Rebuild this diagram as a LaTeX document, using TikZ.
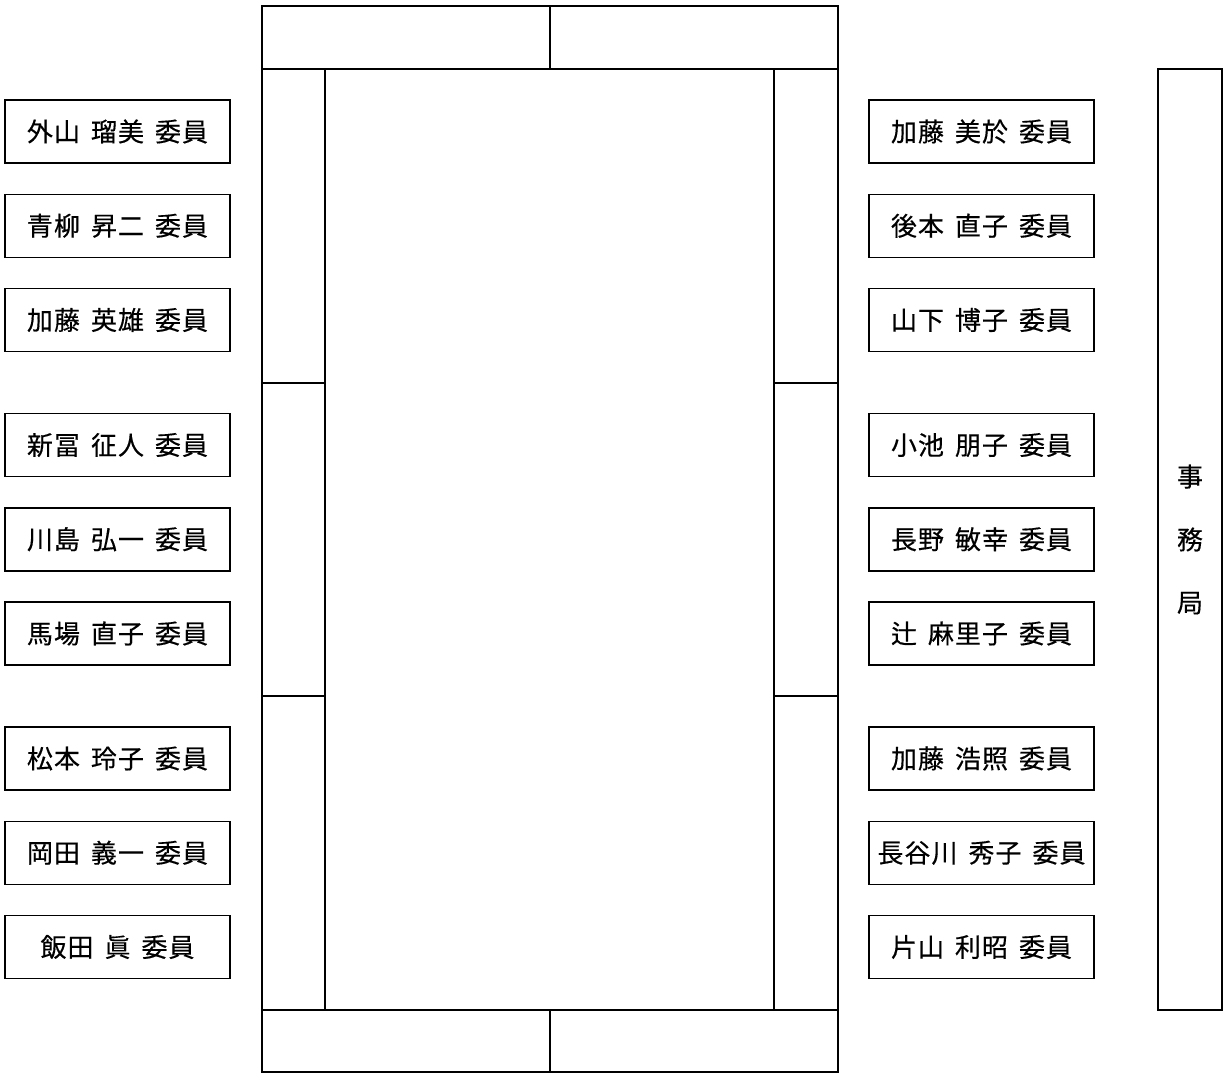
\documentclass[tikz,border=0pt]{standalone}
\usepackage{fontspec}
\setmainfont{Noto Sans CJK JP}[LetterSpace=4, WordSpace=1.6, FakeBold=0.4]
\tikzset{
    seat/.style={draw, line width=1.5pt, minimum width=225pt, minimum height=63pt,
        inner sep=0pt, font=\fontsize{26}{30}\selectfont},
    office/.style={draw, line width=1.5pt, minimum width=64pt, minimum height=941pt,
        inner sep=0pt, align=center, font=\fontsize{26}{63}\selectfont},
}
\begin{document}
\begin{tikzpicture}[x=1pt, y=-1pt]
    \useasboundingbox (0,0) rectangle (1223,1073);
    % table
    \draw[line width=1.5pt] (262,6) rectangle (838,1072);
    \draw[line width=1.5pt] (262,69) -- (838,69);
    \draw[line width=1.5pt] (262,1010) -- (838,1010);
    \draw[line width=1.5pt] (550,6) -- (550,69);
    \draw[line width=1.5pt] (550,1010) -- (550,1072);
    \draw[line width=1.5pt] (325,69) -- (325,1010);
    \draw[line width=1.5pt] (774,69) -- (774,1010);
    \foreach \y in {383,696} {
        \draw[line width=1.5pt] (262,\y) -- (325,\y);
        \draw[line width=1.5pt] (774,\y) -- (838,\y);
    }
    % members, left side
    \foreach \nm [count=\i from 0] in {外山 瑠美 委員, 青柳 昇二 委員, 加藤 英雄 委員,
            新冨 征人 委員, 川島 弘一 委員, 馬場 直子 委員,
            松本 玲子 委員, 岡田 義一 委員, 飯田 眞 委員} {
        \pgfmathsetmacro{\yy}{131.5 + 94.25*mod(\i,3) + 313.5*int(\i/3)}
        \node[seat] (L\i) at (117.5,\yy) {\nm};
    }
    % members, right side
    \foreach \nm [count=\i from 0] in {加藤 美於 委員, 後本 直子 委員, 山下 博子 委員,
            小池 朋子 委員, 長野 敏幸 委員, 辻 麻里子 委員,
            加藤 浩照 委員, 長谷川 秀子 委員, 片山 利昭 委員} {
        \pgfmathsetmacro{\yy}{131.5 + 94.25*mod(\i,3) + 313.5*int(\i/3)}
        \node[seat] (R\i) at (981.5,\yy) {\nm};
    }
    % secretariat
    \node[office] (jimu) at (1190,539.5) {事\\務\\局};
\end{tikzpicture}
\end{document}
